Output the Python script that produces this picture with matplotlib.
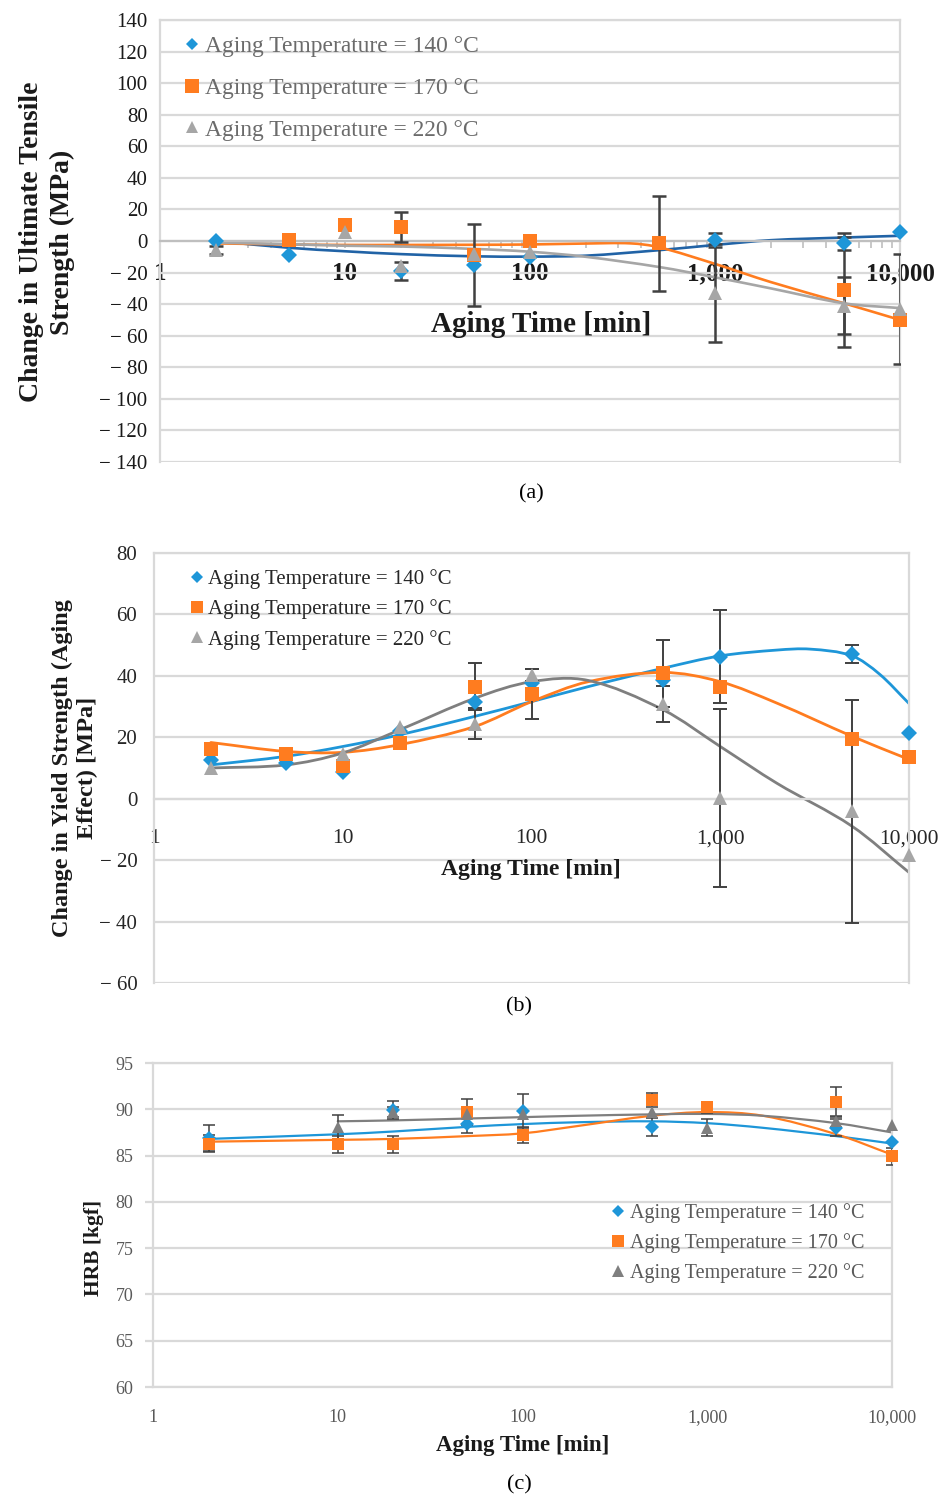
# Aging behaviour of the alloy: UTS change, yield strength change and HRB
# hardness versus aging time, for three aging temperatures.
# Trend curves are drawn as smooth cubic curves through their nodes.

import numpy as np
import matplotlib
matplotlib.use("Agg")
import matplotlib.pyplot as plt
from matplotlib.path import Path
from matplotlib.patches import PathPatch
from matplotlib.lines import Line2D
from matplotlib.ticker import FuncFormatter, FixedLocator

plt.rcParams['font.family'] = ['Liberation Serif', 'DejaVu Serif']

nan = np.nan

# ---------------- data: (a) change in UTS ----------------
time_a = [2, 5, 10, 20, 50, 100, 500, 1000, 5000, 10000]
uts_140 = [0, -9, nan, -19, -15, -10, nan, 0.5, -1.5, 5.5]
uts_170 = [nan, 0.5, 10, 9, -9, 0, -1.5, nan, -31, -50]
uts_220 = [-5.5, nan, 6, -16, -8.5, -7, nan, -33, -41, -43]
uts_err_140 = [0, 0, 0, 5.5, 26, 0, 0, 4.5, 4, 0]
uts_err_170 = [0, 0, 0, 9.5, 0, 0, 30, 0, 36, 0]
uts_err_220 = [2.5, 0, 0, 0, 0, 0, 0, 31, 18, 35]

trend_x_a = [2, 5, 10, 20, 50, 100, 200, 500, 1000, 2000, 5000, 10000]
trend_uts_140 = [0, -4.3, -6.5, -8.3, -9.7, -9.9, -9.3, -5.8, -2.5, 0.5, 2.2, 3.3]
trend_uts_220 = [-1, -2, -3, -3.5, -5, -6.8, -10, -16.5, -23, -30, -39.5, -42.5]
trend_x_a170 = [2, 5, 10, 20, 50, 100, 200, 350, 500, 1000, 2000, 5000, 10000]
trend_uts_170 = [-1.5, -2.2, -2.5, -2.5, -2.4, -2.2, -1.6, -1.5, -4, -14.5, -26, -39.5, -50]

# ---------------- data: (b) change in yield strength ----------------
time_b = [2, 5, 10, 20, 50, 100, 500, 1000, 5000, 10000]
ys_140 = [12.5, 11.5, 8.8, 22, 31.6, 37.8, 38.5, 46.3, 47.2, 21.5]
ys_170 = [16.3, 14.6, 10.5, 18.3, 36.5, 34.1, 40.8, 36.5, 19.4, 13.5]
ys_220 = [10, nan, 14.6, 23.3, 24.4, 40.3, 30.9, 0.2, -4.1, -18.2]
ys_err_140 = [0, 0, 0, 0, 0, 0, 0, 15, 3, 0]
ys_err_170 = [0, 0, 0, 0, 7.7, 8.2, 11, 0, 0, 0]
ys_err_220 = [0, 0, 0, 0, 5, 2, 5.8, 29, 36.3, 0]

trend_x_b140 = [2, 5, 10, 20, 50, 100, 200, 500, 1000, 2000, 3000, 5000, 7000, 10000]
trend_ys_140 = [11, 13.8, 17, 20.8, 26.8, 31.6, 36.5, 42.5, 46.5, 48.4, 48.7, 46.5, 40.5, 31]
trend_x_b = [2, 5, 10, 20, 50, 100, 200, 500, 1000, 2000, 5000, 10000]
trend_ys_170 = [18.3, 15.4, 15.1, 17.6, 23.5, 31.6, 38.1, 41.1, 38.1, 31.1, 20.3, 12.8]
trend_ys_220 = [10, 11, 14.9, 22.4, 32.7, 38.1, 38.5, 28.9, 17, 5, -9, -24]

# ---------------- data: (c) HRB hardness ----------------
time_c = [2, 10, 20, 50, 100, 500, 1000, 5000, 10000]
hrb_140 = [86.9, nan, 89.9, 88.4, 89.85, 88.1, nan, 88.0, 86.5]
hrb_170 = [86.3, 86.2, 86.2, 89.7, 87.2, 91.0, 90.2, 90.8, 84.9]
hrb_220 = [nan, 88.1, 89.7, 89.5, 89.5, 89.7, 88.0, 88.7, 88.3]
hrb_err_140 = [1.4, 0, 1.0, 1.0, 1.75, 1.0, 0, 0.9, 0]
hrb_err_170 = [0.9, 0.9, 0.9, 1.4, 0.8, 0.8, 0.6, 1.6, 0.9]
hrb_err_220 = [0, 1.3, 0.5, 0, 0, 0, 0.9, 0.6, 0]

trend_x_c = [2, 10, 20, 50, 100, 200, 500, 1000, 2000, 5000, 10000]
trend_hrb_140 = [86.8, 87.3, 87.6, 88.1, 88.4, 88.6, 88.7, 88.5, 88.0, 87.1, 86.3]
trend_hrb_170 = [86.5, 86.7, 86.8, 87.1, 87.4, 88.2, 89.3, 89.7, 89.3, 87.3, 85.1]
trend_x_c220 = [10, 20, 50, 100, 200, 500, 1000, 2000, 5000, 10000]
trend_hrb_220 = [88.7, 88.8, 89.0, 89.15, 89.3, 89.45, 89.5, 89.3, 88.5, 87.5]

labels = ['Aging Temperature = 140 °C',
          'Aging Temperature = 170 °C',
          'Aging Temperature = 220 °C']

BLUE = '#1E96D8'
BLUE_DARK = '#2163A6'
ORANGE = '#FF7C1F'
GRAY = '#A6A6A6'
GRAY_DARK = '#7F7F7F'
GRID = '#D9D9D9'
ERR = '#404040'

W, H = 942, 1499
fig = plt.figure(figsize=(W / 100, H / 100), dpi=100)


def px_rect(l, t, r, b):
    return [l / W, 1 - b / H, (r - l) / W, (b - t) / H]


def fx(x):
    return x / W


def fy(y):
    return 1 - y / H


def smooth_path(xs, ys):
    # cubic Hermite curve in (log10 x, y), written as Bezier segments
    t = np.log10(np.asarray(xs, float))
    y = np.asarray(ys, float)
    n = len(t)
    m = np.empty(n)
    m[0] = (y[1] - y[0]) / (t[1] - t[0])
    m[-1] = (y[-1] - y[-2]) / (t[-1] - t[-2])
    for i in range(1, n - 1):
        m[i] = (y[i + 1] - y[i - 1]) / (t[i + 1] - t[i - 1])
    verts = [(10 ** t[0], y[0])]
    codes = [Path.MOVETO]
    for i in range(n - 1):
        h = t[i + 1] - t[i]
        verts.append((10 ** (t[i] + h / 3), y[i] + m[i] * h / 3))
        verts.append((10 ** (t[i + 1] - h / 3), y[i + 1] - m[i + 1] * h / 3))
        verts.append((10 ** t[i + 1], y[i + 1]))
        codes += [Path.CURVE4] * 3
    return Path(verts, codes)


def add_trend(ax, xs, ys, color, lw):
    ax.add_patch(PathPatch(smooth_path(xs, ys), fill=False, edgecolor=color,
                           lw=lw, zorder=2, capstyle='round'))


def add_series(ax, xs, ys, err, marker, color, ms, elw, cap):
    xs = np.asarray(xs, float)
    ys = np.asarray(ys, float)
    err = np.asarray(err, float)
    keep = err > 0
    if keep.any():
        ax.errorbar(xs[keep], ys[keep], yerr=err[keep], fmt='none',
                    ecolor=ERR, elinewidth=elw, capsize=cap, capthick=elw,
                    zorder=3)
    ax.plot(xs, ys, linestyle='none', marker=marker, color=color,
            markersize=ms, markeredgewidth=0, zorder=4, clip_on=False)


def minus_fmt(v, pos):
    v = int(round(v))
    return '− %d' % -v if v < 0 else '%d' % v


def comma_fmt(v, pos):
    return '{:,.0f}'.format(v)


def frame(ax):
    ax.set_facecolor('white')
    ax.set_xscale('log')
    ax.set_xlim(1, 10000)
    ax.yaxis.grid(True, color=GRID, lw=1.6, zorder=0)
    ax.set_axisbelow(True)
    for s in ax.spines.values():
        s.set_color(GRID)
        s.set_linewidth(1.6)
    ax.xaxis.set_major_locator(FixedLocator([1, 10, 100, 1000, 10000]))
    ax.xaxis.set_major_formatter(FuncFormatter(comma_fmt))


def legend(ax, handles, left, top, fs, hl, htp, ls, color):
    ax.legend(handles, labels, loc='upper left',
              bbox_to_anchor=(fx(left), fy(top)), bbox_transform=fig.transFigure,
              frameon=False, fontsize=fs, handlelength=hl, handletextpad=htp,
              labelspacing=ls, borderpad=0, borderaxespad=0, labelcolor=color)


# ================= (a) =================
ax = fig.add_axes(px_rect(160, 20, 900, 462))
frame(ax)
ax.set_ylim(-140, 140)
ax.yaxis.set_major_locator(FixedLocator(np.arange(-140, 141, 20)))
ax.yaxis.set_major_formatter(FuncFormatter(minus_fmt))
ax.spines['bottom'].set_position(('data', 0))
ax.spines['bottom'].set_color('#BFBFBF')
ax.tick_params(axis='y', length=0, pad=9, labelsize=15, labelcolor='#1a1a1a')
ax.tick_params(axis='x', which='both', direction='out', length=5,
               color='#BFBFBF', width=1.2, pad=10)
ax.tick_params(axis='x', which='major', labelsize=18, labelcolor='#1a1a1a')
for lab in ax.get_xticklabels():
    lab.set_fontweight('bold')
ax.xaxis.set_minor_formatter(FuncFormatter(lambda v, p: ''))

add_trend(ax, trend_x_a, trend_uts_140, BLUE_DARK, 1.9)
add_trend(ax, trend_x_a170, trend_uts_170, ORANGE, 1.9)
add_trend(ax, trend_x_a, trend_uts_220, GRAY, 1.9)
add_series(ax, time_a, uts_140, uts_err_140, 'D', BLUE, 8.5, 1.8, 5)
add_series(ax, time_a, uts_170, uts_err_170, 's', ORANGE, 10.5, 1.8, 5)
add_series(ax, time_a, uts_220, uts_err_220, '^', GRAY, 10, 1.8, 5)

handles_a = [Line2D([], [], ls='none', marker='D', color=BLUE, ms=6.5, mew=0),
             Line2D([], [], ls='none', marker='s', color=ORANGE, ms=9.5, mew=0),
             Line2D([], [], ls='none', marker='^', color=GRAY, ms=8, mew=0)]
legend(ax, handles_a, 186, 36, 16.9, 0.5, 0.3, 0.86, '#6b6b6b')

fig.text(fx(541), fy(325), 'Aging Time [min]', ha='center', va='center',
         fontsize=21, fontweight='bold', color='#1a1a1a')
fig.text(fx(47), fy(242), 'Change in Ultimate Tensile\nStrength (MPa)',
         ha='center', va='center', rotation=90, fontsize=20,
         fontweight='bold', color='#1a1a1a', linespacing=1.28)
fig.text(fx(531), fy(494), '(a)', ha='center', va='center', fontsize=16)

# ================= (b) =================
ax = fig.add_axes(px_rect(154, 553, 909, 983))
frame(ax)
ax.set_ylim(-60, 80)
ax.yaxis.set_major_locator(FixedLocator(np.arange(-60, 81, 20)))
ax.yaxis.set_major_formatter(FuncFormatter(minus_fmt))
ax.spines['bottom'].set_position(('data', 0))
ax.tick_params(axis='y', length=0, pad=12, labelsize=15, labelcolor='#262626')
ax.tick_params(axis='x', which='both', length=0, pad=22, labelsize=15.5,
               labelcolor='#262626')
ax.xaxis.set_minor_formatter(FuncFormatter(lambda v, p: ''))

add_trend(ax, trend_x_b140, trend_ys_140, BLUE, 2.0)
add_trend(ax, trend_x_b, trend_ys_170, ORANGE, 2.0)
add_trend(ax, trend_x_b, trend_ys_220, GRAY_DARK, 2.0)
add_series(ax, time_b, ys_140, ys_err_140, 'D', BLUE, 8, 1.4, 5)
add_series(ax, time_b, ys_170, ys_err_170, 's', ORANGE, 10, 1.4, 5)
add_series(ax, time_b, ys_220, ys_err_220, '^', GRAY, 9.5, 1.4, 5)

handles_b = [Line2D([], [], ls='none', marker='D', color=BLUE, ms=6, mew=0),
             Line2D([], [], ls='none', marker='s', color=ORANGE, ms=8.5, mew=0),
             Line2D([], [], ls='none', marker='^', color=GRAY, ms=8, mew=0)]
legend(ax, handles_b, 190.8, 569, 15, 0.6, 0.23, 0.5, '#262626')

fig.text(fx(531), fy(869), 'Aging Time [min]', ha='center', va='center',
         fontsize=17, fontweight='bold', color='#1a1a1a')
fig.text(fx(75), fy(768), 'Change in Yield Strength (Aging\nEffect) [MPa]',
         ha='center', va='center', rotation=90, fontsize=17.5,
         fontweight='bold', color='#1a1a1a', linespacing=1.2)
fig.text(fx(519), fy(1007), '(b)', ha='center', va='center', fontsize=16)

# ================= (c) =================
ax = fig.add_axes(px_rect(153, 1063, 892, 1387))
frame(ax)
ax.set_ylim(60, 95)
ax.yaxis.set_major_locator(FixedLocator(np.arange(60, 96, 5)))
ax.tick_params(axis='y', length=6, color=GRID, width=1.6, pad=8,
               labelsize=13, labelcolor='#595959')
ax.tick_params(axis='x', which='both', length=0, pad=16, labelsize=13,
               labelcolor='#595959')
ax.xaxis.set_minor_formatter(FuncFormatter(lambda v, p: ''))

add_trend(ax, trend_x_c, trend_hrb_140, BLUE, 1.6)
add_trend(ax, trend_x_c, trend_hrb_170, ORANGE, 1.6)
add_trend(ax, trend_x_c220, trend_hrb_220, GRAY_DARK, 1.6)
add_series(ax, time_c, hrb_140, hrb_err_140, 'D', BLUE, 7.5, 1.1, 4)
add_series(ax, time_c, hrb_170, hrb_err_170, 's', ORANGE, 9, 1.1, 4)
add_series(ax, time_c, hrb_220, hrb_err_220, '^', GRAY_DARK, 9, 1.1, 4)

handles_c = [Line2D([], [], ls='none', marker='D', color=BLUE, ms=6, mew=0),
             Line2D([], [], ls='none', marker='s', color=ORANGE, ms=8.5, mew=0),
             Line2D([], [], ls='none', marker='^', color=GRAY_DARK, ms=8.5, mew=0)]
legend(ax, handles_c, 612, 1203, 14.5, 0.6, 0.3, 0.5, '#595959')

fig.text(fx(523), fy(1446), 'Aging Time [min]', ha='center', va='center',
         fontsize=16.5, fontweight='bold', color='#1a1a1a')
fig.text(fx(94), fy(1248), 'HRB [kgf]', ha='center', va='center',
         rotation=90, fontsize=15.5, fontweight='bold', color='#1a1a1a')
fig.text(fx(519), fy(1485), '(c)', ha='center', va='center', fontsize=16)

fig.savefig('out.png', dpi=100)
